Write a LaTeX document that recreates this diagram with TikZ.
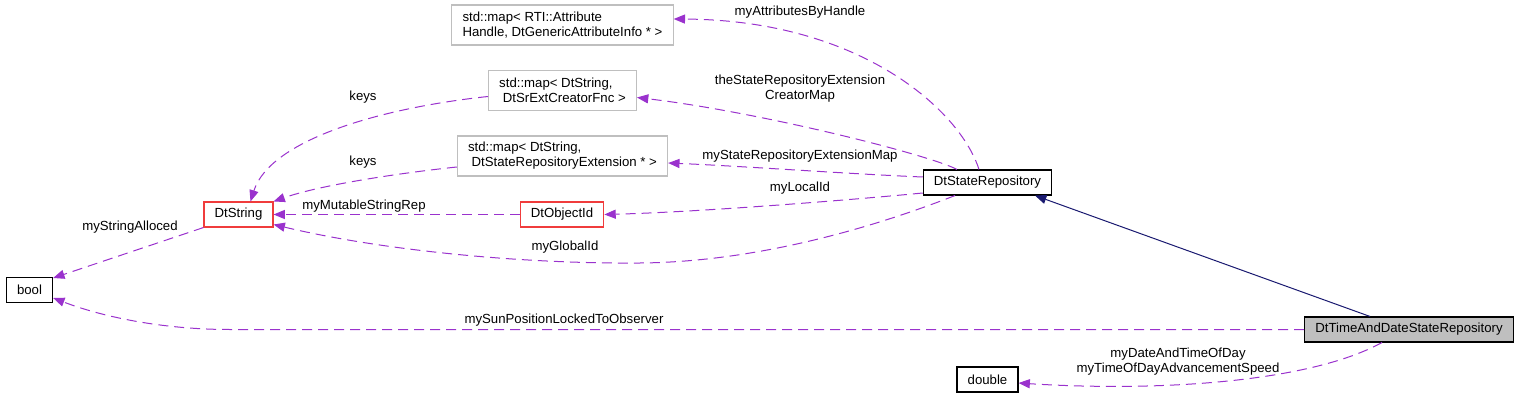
\documentclass[tikz,border=0pt]{standalone}
\usepackage{fontspec}
\setmainfont{Liberation Sans}
\usetikzlibrary{arrows.meta,calc}
\usepackage{xcolor}

\definecolor{edgepurple}{HTML}{9A32CD}
\definecolor{inhblue}{HTML}{191970}
\definecolor{tmplgray}{HTML}{BFBFBF}
\definecolor{refred}{HTML}{F03C3C}

\begin{document}
\begin{tikzpicture}[
      x=0.75pt, y=-0.75pt,
      font=\fontsize{9.9}{11.25}\selectfont,
      cls/.style={draw=black, fill=white, line width=0.8pt, inner xsep=8pt,
                  inner ysep=2pt, minimum height=18.75pt},
      refcls/.style={cls, draw=refred},
      tmpl/.style={cls, draw=tmplgray, minimum height=30pt, align=left},
      cur/.style={cls, fill=tmplgray},
      lbl/.style={inner sep=0pt, align=center},
      arr/.style={draw=edgepurple, line width=0.75pt, dash pattern=on 7.5pt off 4.5pt,
                  -{Triangle[length=8.5pt, width=6.8pt]}},
      inh/.style={draw=inhblue, line width=0.75pt, -{Triangle[length=8.5pt, width=6.8pt]}},
    ]
    \useasboundingbox (0,0) rectangle (1520,399);

    % classes and templates
    \node[cls] (bool) at (29.5,290) {bool};
    \node[refcls] (dtstr) at (238.5,214.5) {DtString};
    \node[refcls] (doid) at (562,214.5) {DtObjectId};
    \node[tmpl] (map1) at (562.5,25) {std::map< RTI::Attribute\\Handle, DtGenericAttributeInfo * >};
    \node[tmpl] (map2) at (562.5,90.5) {std::map< DtString,\\\ DtSrExtCreatorFnc >};
    \node[tmpl] (map3) at (562.5,156) {std::map< DtString,\\\ DtStateRepositoryExtension * >};
    \node[cls] (dsr) at (987.5,182.5) {DtStateRepository};
    \node[cur] (tdsr) at (1409,329.5) {DtTimeAndDateStateRepository};
    \node[cls] (dbl) at (987.5,379.5) {double};

    % members of DtStateRepository
    \draw[arr] ($(dsr.north)+(-8.5,0)$) .. controls (960,110) and (860,20) .. ($(map1.east)+(0,-6)$);
    \draw[arr] ($(dsr.north)+(-30.5,0)$) .. controls (930,155) and (760,112) .. ($(map2.east)+(0,7)$);
    \draw[arr] ($(dsr.west)+(0,-5.5)$) .. controls (850,174) and (740,166) .. ($(map3.east)+(0,7)$);
    \draw[arr] ($(dsr.west)+(0,10.5)$) .. controls (850,200) and (700,212) .. (doid.east);
    \draw[arr] ($(dsr.south)+(-32.5,0)$) .. controls (880,225) and (760,262) .. (640,263)
      .. controls (520,264) and (380,250) .. ($(dtstr.east)+(0,10)$);

    % members pointing to DtString and bool
    \draw[arr] (doid.west) -- (dtstr.east);
    \draw[arr] ($(map3.west)+(0,11)$) .. controls (400,173) and (320,185) .. (dtstr.north east);
    \draw[arr] ($(map2.west)+(0,6)$) .. controls (380,108) and (270,140) .. ($(dtstr.north)+(12,0)$);
    \draw[arr] (dtstr.south west) -- ($(bool.east)+(0,-12)$);

    % members of DtTimeAndDateStateRepository
    \draw[arr] (tdsr.west) -- (230,329.5) .. controls (160,329.5) and (100,316) .. ($(bool.east)+(0,8)$);
    \draw[arr] ($(tdsr.south)+(-27,0)$) .. controls (1310,382) and (1160,392) .. ($(dbl.east)+(0,3.5)$);

    % base class
    \draw[inh] ($(tdsr.north)+(-39,0)$) -- ($(dsr.south)+(47.5,0)$);

    % edge labels
    \node[lbl] (lattr) at (800,12) {myAttributesByHandle};
    \node[lbl] (lcreat) at (800,88.5) {theStateRepositoryExtension\\CreatorMap};
    \node[lbl] (lextmap) at (800,156) {myStateRepositoryExtensionMap};
    \node[lbl] (llocal) at (800,188) {myLocalId};
    \node[lbl] (lglobal) at (565,247) {myGlobalId};
    \node[lbl] (lmut) at (364,206) {myMutableStringRep};
    \node[lbl] (lkeysa) at (363,97) {keys};
    \node[lbl] (lkeysb) at (363,162) {keys};
    \node[lbl] (lalloc) at (130,227) {myStringAlloced};
    \node[lbl] (lsun) at (564,320) {mySunPositionLockedToObserver};
    \node[lbl] (ltime) at (1178,362) {myDateAndTimeOfDay\\myTimeOfDayAdvancementSpeed};
  \end{tikzpicture}
\end{document}
